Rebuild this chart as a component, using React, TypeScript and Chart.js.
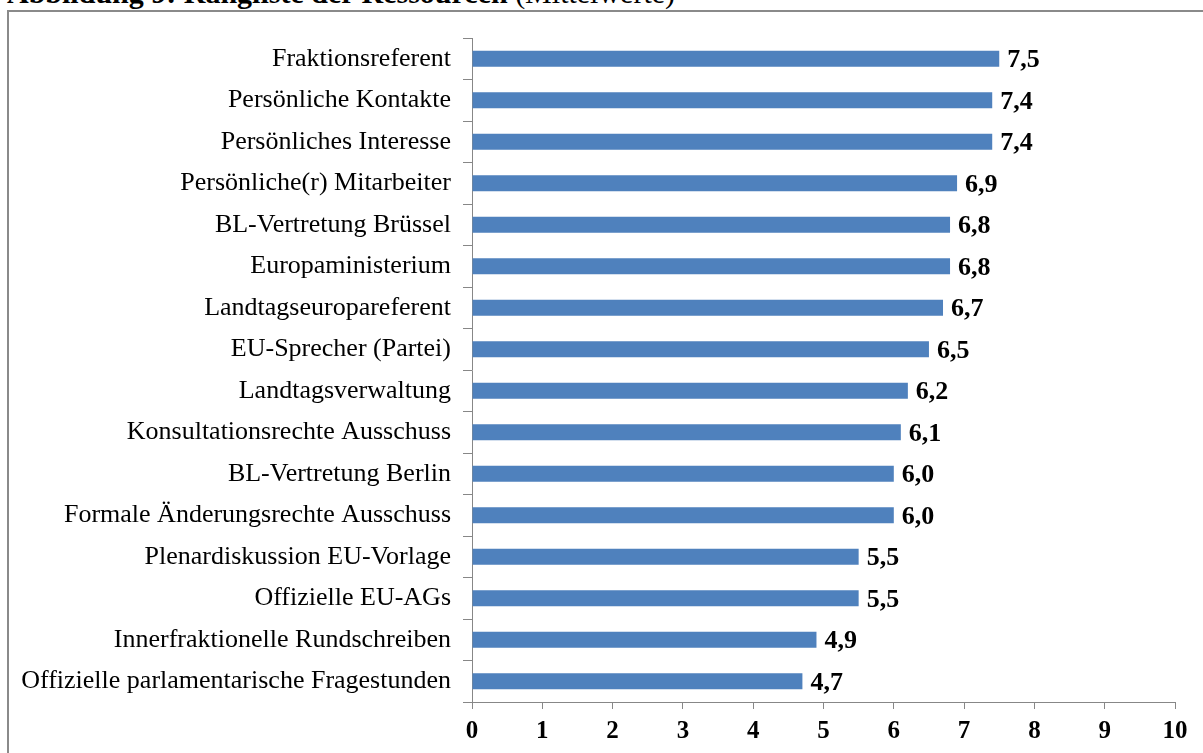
import React, { useEffect, useRef } from "react";
import { Chart, registerables } from "chart.js";

Chart.register(...registerables);

// Ressourcen, von oben nach unten
const categories = [
  "Fraktionsreferent",
  "Persönliche Kontakte",
  "Persönliches Interesse",
  "Persönliche(r) Mitarbeiter",
  "BL-Vertretung Brüssel",
  "Europaministerium",
  "Landtagseuropareferent",
  "EU-Sprecher (Partei)",
  "Landtagsverwaltung",
  "Konsultationsrechte Ausschuss",
  "BL-Vertretung Berlin",
  "Formale Änderungsrechte Ausschuss",
  "Plenardiskussion EU-Vorlage",
  "Offizielle EU-AGs",
  "Innerfraktionelle Rundschreiben",
  "Offizielle parlamentarische Fragestunden",
];

// Mittelwerte
const means = [7.5, 7.4, 7.4, 6.9, 6.8, 6.8, 6.7, 6.5, 6.2, 6.1, 6.0, 6.0, 5.5, 5.5, 4.9, 4.7];

const xTicks = [0, 1, 2, 3, 4, 5, 6, 7, 8, 9, 10];

const SERIF = "'Liberation Serif', 'Times New Roman', serif";
const AXIS_GRAY = "#878787";
const BAR_BLUE = "#4F81BD";

const W = 1203;
const H = 753;

const valueLabels = {
  id: "valueLabels",
  afterDatasetsDraw(chart: any) {
    const ctx = chart.ctx;
    const meta = chart.getDatasetMeta(0);
    ctx.save();
    ctx.font = `bold 26px ${SERIF}`;
    ctx.fillStyle = "#000";
    ctx.textAlign = "left";
    ctx.textBaseline = "middle";
    meta.data.forEach((bar: any, i: number) => {
      const text = means[i].toFixed(1).replace(".", ",");
      ctx.fillText(text, bar.x + 8, bar.y + 2);
    });
    ctx.restore();
  },
};

export default function App() {
  const canvasRef = useRef<HTMLCanvasElement | null>(null);

  useEffect(() => {
    if (!canvasRef.current) return;
    const chart = new Chart(canvasRef.current, {
      type: "bar",
      data: {
        labels: categories,
        datasets: [
          {
            data: means,
            backgroundColor: BAR_BLUE,
            borderWidth: 0,
            barPercentage: 0.39,
            categoryPercentage: 1.0,
          },
        ],
      },
      options: {
        indexAxis: "y",
        responsive: false,
        animation: false,
        devicePixelRatio: 1,
        layout: { padding: { top: 38, right: 28, bottom: 0, left: 0 } },
        plugins: {
          legend: { display: false },
          tooltip: { enabled: false },
        },
        scales: {
          x: {
            min: 0,
            max: 10,
            afterFit(scale: any) {
              scale.height = 51;
            },
            afterBuildTicks(scale: any) {
              scale.ticks = xTicks.map((v) => ({ value: v }));
            },
            grid: {
              drawOnChartArea: false,
              drawTicks: true,
              tickLength: 7,
              color: AXIS_GRAY,
            },
            border: { display: true, color: AXIS_GRAY, width: 1 },
            ticks: {
              padding: 8,
              color: "#000",
              font: { family: SERIF, size: 25, weight: "bold" },
            },
          },
          y: {
            afterFit(scale: any) {
              scale.width = 472;
            },
            grid: {
              drawOnChartArea: false,
              drawTicks: true,
              tickLength: 9,
              color: AXIS_GRAY,
              offset: true,
            },
            border: { display: true, color: AXIS_GRAY, width: 1 },
            ticks: {
              autoSkip: false,
              padding: 12,
              color: "#000",
              font: { family: SERIF, size: 26 },
            },
          },
        },
      },
      plugins: [valueLabels],
    });
    return () => chart.destroy();
  }, []);

  return (
    <div
      style={{
        position: "fixed",
        left: 0,
        top: 0,
        width: W,
        height: H,
        overflow: "hidden",
        background: "#fff",
      }}
    >
      <div
        style={{
          position: "absolute",
          left: 7,
          top: -22,
          whiteSpace: "nowrap",
          fontFamily: SERIF,
          fontSize: 30,
          lineHeight: "30px",
          color: "#000",
        }}
      >
        <b>Abbildung 9: Rangliste der Ressourcen </b>(Mittelwerte)
      </div>
      <div
        style={{
          position: "absolute",
          left: 7,
          top: 10,
          width: W + 100,
          height: H + 100,
          border: "2px solid #8a8a8a",
          boxSizing: "border-box",
        }}
      />
      <canvas
        ref={canvasRef}
        width={W}
        height={H}
        style={{ position: "absolute", left: 0, top: 0, width: W, height: H }}
      />
    </div>
  );
}
